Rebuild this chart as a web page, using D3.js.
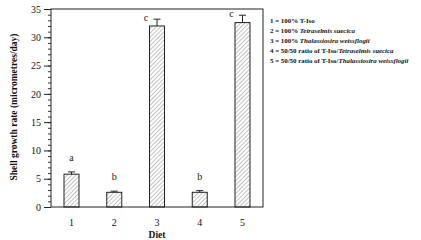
<!DOCTYPE html>
<html>
<head>
<meta charset="utf-8">
<script src="https://cdn.jsdelivr.net/npm/d3@7"></script>
<style>
  body { margin: 0; background: #fff; }
  svg { font-family: "Liberation Serif", "Times New Roman", serif; }
</style>
</head>
<body>
<div id="chart"></div>
<script>
var diets = [1, 2, 3, 4, 5];
var growth = [5.8, 2.6, 32.0, 2.6, 32.6];
var errors = [0.4, 0.2, 1.2, 0.3, 1.3];
var groups = ["a", "b", "c", "b", "c"];
var yTicks = [0, 5, 10, 15, 20, 25, 30, 35];
var legendLabels = [
  ["1 = 100% T-Iso", ""],
  ["2 = 100% ", "Tetraselmis suecica"],
  ["3 = 100% ", "Thalassiosira weissflogii"],
  ["4 = 50/50 ratio of T-Iso/", "Tetraselmis suecica"],
  ["5 = 50/50 ratio of T-Iso/", "Thalassiosira weissflogii"]
];

var width = 421,
  height = 240;
var plotLeft = 51, plotRight = 263, plotTop = 9, plotBottom = 207;

var svg = d3.select("#chart").append("svg")
  .attr("width", width)
  .attr("height", height);

var defs = svg.append("defs");
var pat = defs.append("pattern")
  .attr("id", "hatch")
  .attr("patternUnits", "userSpaceOnUse")
  .attr("width", 3)
  .attr("height", 3)
  .attr("patternTransform", "rotate(45)");
pat.append("line")
  .attr("x1", 0).attr("y1", 0).attr("x2", 0).attr("y2", 3)
  .attr("stroke", "#777").attr("stroke-width", 0.9);

var x = d3.scalePoint().domain(diets).range([71.5, 242.5]);
var y = d3.scaleLinear().domain([0, 35]).range([plotBottom, plotTop]);
var barW = 15;

// frame
svg.append("rect")
  .attr("x", plotLeft).attr("y", plotTop)
  .attr("width", plotRight - plotLeft).attr("height", plotBottom - plotTop)
  .attr("fill", "none").attr("stroke", "#222").attr("stroke-width", 1);

// minor ticks
svg.append("g")
  .attr("transform", "translate(" + plotLeft + ",0)")
  .call(d3.axisLeft(y).tickValues(d3.range(0, 36, 1)).tickSize(3).tickFormat(""))
  .call(g => g.select(".domain").remove())
  .selectAll("line").attr("stroke", "#333");

// major ticks
var yAxis = svg.append("g")
  .attr("transform", "translate(" + plotLeft + ",0)")
  .call(d3.axisLeft(y).tickValues(yTicks).tickSize(7).tickPadding(3));
yAxis.select(".domain").remove();
yAxis.selectAll("line").attr("stroke", "#222");
yAxis.selectAll("text")
  .attr("font-family", "Liberation Serif, serif")
  .attr("font-size", 10)
  .attr("fill", "#111");

// x labels
svg.append("g").selectAll("text")
  .data(diets)
  .enter().append("text")
  .attr("x", d => x(d))
  .attr("y", 226)
  .attr("text-anchor", "middle")
  .attr("font-size", 10)
  .attr("fill", "#111")
  .text(d => d);

// bars
svg.append("g").selectAll("rect")
  .data(growth)
  .enter().append("rect")
  .attr("x", (d, i) => x(diets[i]) - barW / 2)
  .attr("y", d => y(d))
  .attr("width", barW)
  .attr("height", d => plotBottom - y(d))
  .attr("fill", "url(#hatch)")
  .attr("stroke", "#222")
  .attr("stroke-width", 1);

// error bars
var eb = svg.append("g").attr("stroke", "#222").attr("stroke-width", 1);
growth.forEach(function(d, i) {
  var cx = x(diets[i]);
  eb.append("line")
    .attr("x1", cx).attr("x2", cx)
    .attr("y1", y(d)).attr("y2", y(d + errors[i]));
  eb.append("line")
    .attr("x1", cx - 3.5).attr("x2", cx + 3.5)
    .attr("y1", y(d + errors[i])).attr("y2", y(d + errors[i]));
});

// group letters
svg.append("g").selectAll("text")
  .data(groups)
  .enter().append("text")
  .attr("x", (d, i) => d == "c" ? x(diets[i]) - 11 : x(diets[i]))
  .attr("y", (d, i) => d == "c" ? y(growth[i] + errors[i]) + 2 : y(growth[i] + errors[i]) - 11)
  .attr("text-anchor", "middle")
  .attr("font-size", 10)
  .attr("fill", "#222")
  .text(d => d);

// axis titles
svg.append("text")
  .attr("transform", "translate(17,107) rotate(-90)")
  .attr("text-anchor", "middle")
  .attr("font-size", 9.5)
  .attr("font-weight", "bold")
  .attr("fill", "#111")
  .text("Shell growth rate (micrometres/day)");

svg.append("text")
  .attr("x", 157)
  .attr("y", 238)
  .attr("text-anchor", "middle")
  .attr("font-size", 9.5)
  .attr("font-weight", "bold")
  .attr("fill", "#111")
  .text("Diet");

// legend
var leg = svg.append("g").selectAll("text")
  .data(legendLabels)
  .enter().append("text")
  .attr("x", 270)
  .attr("y", (d, i) => 22.5 + i * 10)
  .attr("font-size", 6.9)
  .attr("font-weight", "bold")
  .attr("fill", "#111");
leg.append("tspan").text(d => d[0]);
leg.append("tspan").attr("font-style", "italic").text(d => d[1]);
</script>
</body>
</html>
